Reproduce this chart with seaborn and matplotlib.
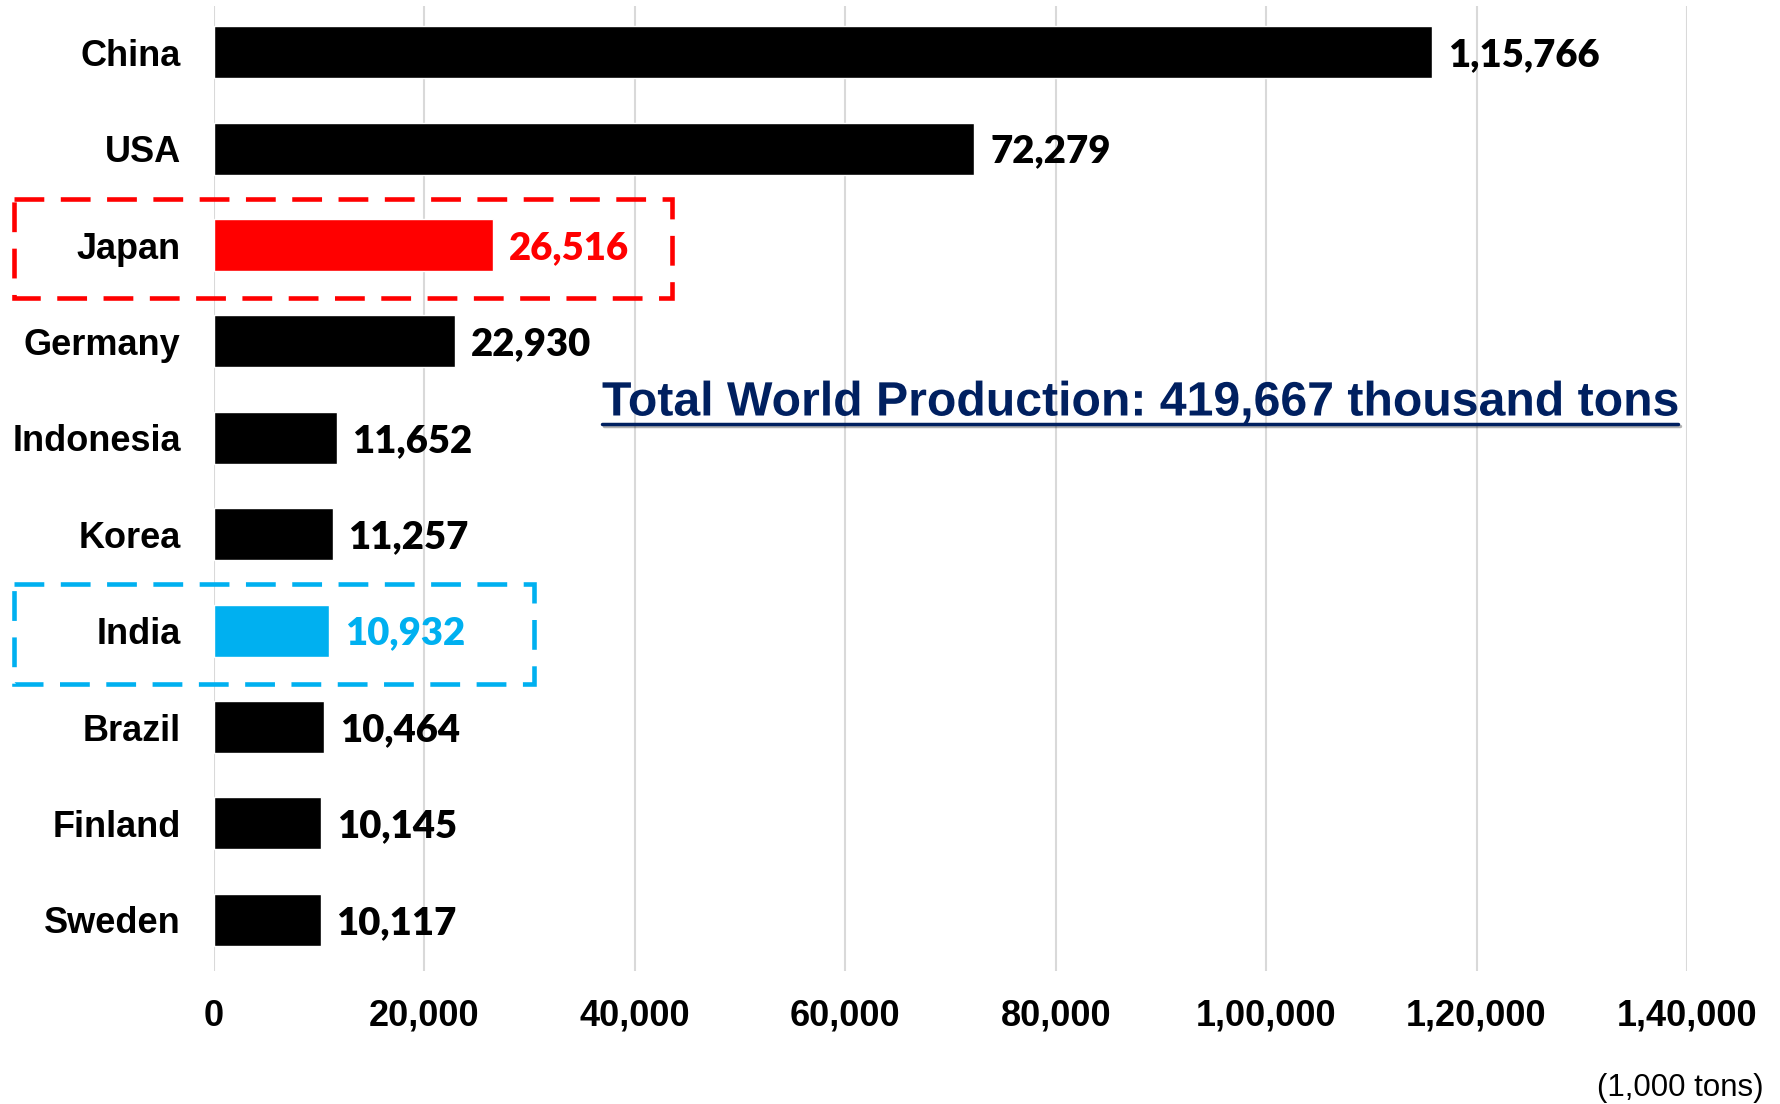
import numpy as np
import pandas as pd
import seaborn as sns
import matplotlib.pyplot as plt
import matplotlib.transforms as mtransforms
import matplotlib.patheffects as pe
from matplotlib.patches import Rectangle
from matplotlib.ticker import FuncFormatter

countries = ["China", "USA", "Japan", "Germany", "Indonesia",
             "Korea", "India", "Brazil", "Finland", "Sweden"]
production = [115766, 72279, 26516, 22930, 11652,
              11257, 10932, 10464, 10145, 10117]
bar_colors = ["#000000", "#000000", "#FF0000", "#000000", "#000000",
              "#000000", "#00B0F0", "#000000", "#000000", "#000000"]
x_ticks = [0, 20000, 40000, 60000, 80000, 100000, 120000, 140000]
title_text = "Total World Production: 419,667 thousand tons"
unit_text = "(1,000 tons)"


def indian_fmt(v):
    # Indian digit grouping: 1,15,766
    s = str(int(round(v)))
    if len(s) <= 3:
        return s
    head, tail = s[:-3], s[-3:]
    parts = []
    while len(head) > 2:
        parts.insert(0, head[-2:])
        head = head[:-2]
    if head:
        parts.insert(0, head)
    return ",".join(parts) + "," + tail


df = pd.DataFrame({"country": countries, "value": production})

sns.set_style("white")
plt.rcParams["font.family"] = ["Liberation Sans", "DejaVu Sans"]
plt.rcParams["text.color"] = "black"
plt.rcParams["xtick.color"] = "black"
plt.rcParams["ytick.color"] = "black"

fig = plt.figure(figsize=(17.81, 11.04), dpi=100)
ax = fig.add_axes([0.1202, 0.1205, 0.827, 0.8741])

sns.barplot(data=df, x="value", y="country", hue="country",
            palette=bar_colors, legend=False, width=0.54,
            orient="h", ax=ax, saturation=1)

ax.set_xlim(0, 140000)
ax.set_ylim(9.53, -0.48)
ax.set_xticks(x_ticks)
ax.xaxis.set_major_formatter(FuncFormatter(lambda v, p: indian_fmt(v)))
ax.set_xlabel("")
ax.set_ylabel("")
ax.grid(axis="x", color="#D9D9D9", linewidth=1.5)
ax.set_axisbelow(True)
for s in ax.spines.values():
    s.set_visible(False)
ax.tick_params(axis="x", length=0, pad=20, labelsize=26, labelcolor="black")
ax.tick_params(axis="y", length=0, pad=24, labelsize=26, labelcolor="black")
for lbl in ax.get_xticklabels() + ax.get_yticklabels():
    lbl.set_fontweight("bold")

# value labels
for i, (v, c) in enumerate(zip(production, bar_colors)):
    ax.text(v + 1500, i + 0.03, indian_fmt(v), va="center", ha="left",
            fontsize=27.5, fontweight="heavy", color=c, family=["Lato", "DejaVu Sans"])

# dashed highlight boxes
trans = mtransforms.blended_transform_factory(ax.transAxes, ax.transData)
for idx, right, col in [(2, 0.311, "#FF0000"), (6, 0.2172, "#00B0F0")]:
    ax.add_patch(Rectangle((-0.1358, idx - 0.48), right + 0.1358, 1.03,
                           transform=trans, fill=False, edgecolor=col,
                           linewidth=3.3, linestyle=(0, (6.5, 3.6)),
                           clip_on=False, zorder=5))

# title with underline
shadow = [pe.withSimplePatchShadow(offset=(1.5, -1.5), alpha=0.25), pe.Normal()]
t = fig.text(602 / 1781, 1 - 403 / 1104, title_text, ha="left", va="center",
             fontsize=34.7, fontweight="bold", color="#002060")
t.set_path_effects([pe.SimpleLineShadow(offset=(1.5, -1.5), alpha=0.25), pe.Normal()])
fig.canvas.draw()
bb = t.get_window_extent().transformed(fig.transFigure.inverted())
uy = 1 - 424 / 1104
ul = plt.Line2D([bb.x0, bb.x1], [uy, uy], color="#002060",
                linewidth=2.5, transform=fig.transFigure)
ul.set_path_effects([pe.SimpleLineShadow(offset=(1.5, -1.5), alpha=0.3), pe.Normal()])
fig.add_artist(ul)

fig.text(1764 / 1781, 1 - 1088 / 1104, unit_text, ha="right", va="center",
         fontsize=22.5, color="#000000")

fig.savefig("out.png", dpi=100)
